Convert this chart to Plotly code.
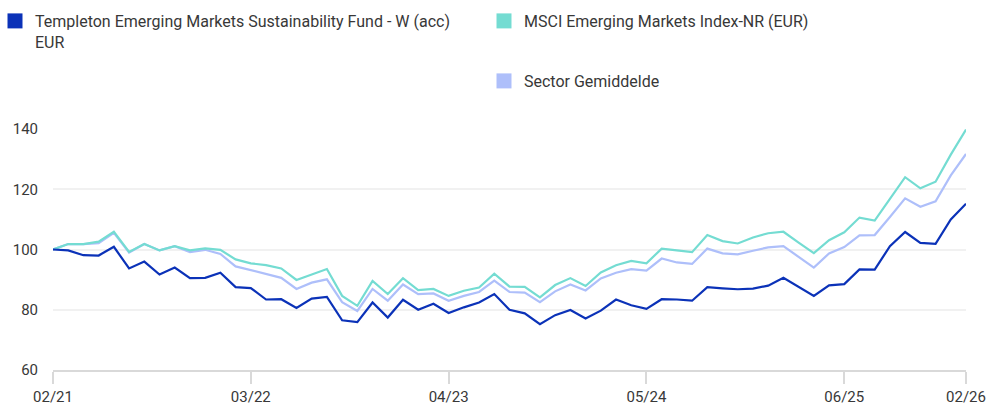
import plotly.graph_objects as go

# Monthly categories from 02/21 to 02/26
months = [f"{m:02d}/{y % 100:02d}" for y in range(2021, 2027) for m in range(1, 13)]
months = months[months.index("02/21"):months.index("02/26") + 1]

tick_labels = ["02/21", "03/22", "04/23", "05/24", "06/25", "02/26"]
y_ticks = [60, 80, 100, 120, 140]

fund_name = "Templeton Emerging Markets Sustainability Fund - W (acc)<br>EUR"
msci_name = "MSCI Emerging Markets Index-NR (EUR)"
sector_name = "Sector Gemiddelde"

fund = [100.0, 99.7, 98.1, 98.0, 100.9, 93.7, 96.0, 91.7, 94.0, 90.5,
        90.6, 92.3, 87.5, 87.2, 83.4, 83.5, 80.6, 83.7, 84.3, 76.5,
        75.9, 82.4, 77.4, 83.3, 80.0, 82.0, 78.9, 80.8, 82.4, 85.2,
        80.0, 78.8, 75.2, 78.2, 79.9, 77.1, 79.7, 83.4, 81.5, 80.3,
        83.5, 83.4, 83.0, 87.5, 87.1, 86.8, 87.0, 88.0, 90.6, 87.6,
        84.6, 88.1, 88.5, 93.4, 93.3, 101.1, 105.8, 102.2, 101.9, 110.0,
        115.2]

msci = [100.0, 101.8, 101.8, 102.6, 105.9, 99.2, 101.8, 99.7, 101.1, 99.7,
        100.4, 99.9, 96.7, 95.4, 94.8, 93.7, 89.9, 91.8, 93.5, 84.6,
        81.3, 89.6, 85.2, 90.5, 86.5, 86.9, 84.6, 86.3, 87.4, 92.0,
        87.7, 87.6, 84.1, 88.2, 90.5, 87.9, 92.4, 94.8, 96.2, 95.4,
        100.3, 99.7, 99.1, 104.8, 102.8, 102.0, 104.0, 105.4, 105.9, 102.3,
        98.8, 103.1, 105.7, 110.6, 109.6, 116.8, 124.0, 120.3, 122.5, 131.5,
        139.8]

sector = [100.0, 101.8, 101.8, 102.1, 105.5, 99.0, 101.8, 99.7, 101.1, 99.1,
          99.9, 98.5, 94.4, 93.2, 91.8, 90.6, 86.9, 89.0, 90.1, 82.5,
          79.6, 86.9, 83.0, 88.4, 85.2, 85.4, 83.0, 84.6, 85.9, 89.7,
          85.9, 85.7, 82.5, 86.1, 88.4, 86.4, 90.4, 92.3, 93.5, 93.0,
          97.0, 95.7, 95.2, 100.3, 98.7, 98.4, 99.6, 100.7, 101.1, 97.6,
          94.0, 98.7, 100.8, 104.7, 104.8, 110.8, 117.0, 114.2, 116.0, 124.6,
          131.7]

FUND_C = "#0b32b8"
MSCI_C = "#74dcd2"
SECTOR_C = "#aebffa"
TEXT_C = "#383838"
FONT = "Roboto, sans-serif"

fig = go.Figure()

# lines (drawn back to front)
for name, vals, col in [(sector_name, sector, SECTOR_C),
                        (msci_name, msci, MSCI_C),
                        (fund_name, fund, FUND_C)]:
    fig.add_trace(go.Scatter(x=months, y=vals, mode="lines", name=name,
                             line=dict(color=col, width=2.2),
                             showlegend=False))

# legend entries (square swatches)
for name, col, lg in [(fund_name, FUND_C, "legend"),
                      (msci_name, MSCI_C, "legend2"),
                      (sector_name, SECTOR_C, "legend3")]:
    fig.add_trace(go.Scatter(x=[None], y=[None], mode="markers", name=name,
                             marker=dict(symbol="square", size=15, color=col),
                             showlegend=True, legend=lg))

W, H = 987, 411
L, R, T, B = 53, 21, 129, 41
pw, ph = W - L - R, H - T - B

def px_x(p):
    return (p - L) / pw

def px_y(p):
    return (H - B - p) / ph

leg_common = dict(font=dict(family=FONT, size=16, color=TEXT_C),
                  bgcolor="rgba(0,0,0,0)", xanchor="left", yanchor="top",
                  valign="top", itemclick=False, itemdoubleclick=False)

fig.update_layout(
    width=W, height=H,
    margin=dict(l=L, r=R, t=T, b=B, autoexpand=False),
    paper_bgcolor="white", plot_bgcolor="white",
    font=dict(family=FONT, size=16, color=TEXT_C),
    legend=dict(x=px_x(-5), y=px_y(4), **leg_common),
    legend2=dict(x=px_x(484), y=px_y(4), **leg_common),
    legend3=dict(x=px_x(484), y=px_y(64), **leg_common),
    xaxis=dict(type="category", range=[0, len(months) - 1],
               tickvals=tick_labels, ticktext=tick_labels,
               showgrid=False, zeroline=False,
               showline=True, linecolor="#d9d9d9", linewidth=2,
               ticks="outside", ticklen=12, tickwidth=2, tickcolor="#d9d9d9",
               tickfont=dict(family=FONT, size=15, color=TEXT_C)),
    yaxis=dict(range=[60, 140], tickvals=y_ticks,
               showgrid=True, gridcolor="#f1f1f1", gridwidth=2,
               zeroline=False, showline=False, ticks="",
               ticklabelstandoff=14,
               tickfont=dict(family=FONT, size=15, color=TEXT_C)),
    hovermode=False,
)

fig.write_html("out.html",
               config={"displayModeBar": False},
               post_script="document.body.style.margin='0';document.body.style.overflow='hidden';")
